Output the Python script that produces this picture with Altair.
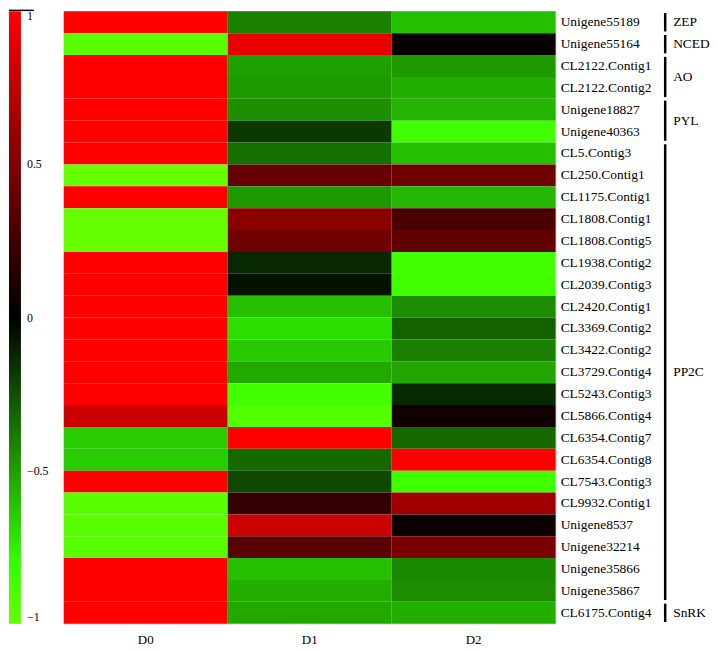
import altair as alt
import pandas as pd

genes = ["Unigene55189", "Unigene55164", "CL2122.Contig1", "CL2122.Contig2",
         "Unigene18827", "Unigene40363", "CL5.Contig3", "CL250.Contig1",
         "CL1175.Contig1", "CL1808.Contig1", "CL1808.Contig5", "CL1938.Contig2",
         "CL2039.Contig3", "CL2420.Contig1", "CL3369.Contig2", "CL3422.Contig2",
         "CL3729.Contig4", "CL5243.Contig3", "CL5866.Contig4", "CL6354.Contig7",
         "CL6354.Contig8", "CL7543.Contig3", "CL9932.Contig1", "Unigene8537",
         "Unigene32214", "Unigene35866", "Unigene35867", "CL6175.Contig4"]
days = ["D0", "D1", "D2"]
d0 = [1, -0.95, 1, 1, 1, 1, 1, -1, 1, -1, -1, 1, 1, 1, 1, 1, 1, 1, 0.80,
      -0.64, -0.64, 1, -0.95, -0.95, -0.95, 1, 1, 1]
d1 = [-0.40, 0.91, -0.50, -0.48, -0.45, -0.18, -0.35, 0.40, -0.48, 0.54, 0.44,
      -0.13, -0.06, -0.60, -0.70, -0.63, -0.53, -0.86, -0.93, 1, -0.33, -0.23,
      0.20, 0.80, 0.35, -0.60, -0.55, -0.53]
d2 = [-0.60, 0.03, -0.48, -0.55, -0.56, -0.86, -0.60, 0.44, -0.57, 0.29, 0.38,
      -0.86, -0.86, -0.44, -0.30, -0.40, -0.52, -0.13, 0.07, -0.33, 1, -0.84,
      0.63, 0.05, 0.48, -0.43, -0.44, -0.55]
groups = ["ZEP", "NCED", "AO", "PYL", "PP2C", "SnRK"]
group_sizes = [1, 1, 2, 2, 21, 1]

rows = []
for i, g in enumerate(genes):
    for day, vals in zip(days, [d0, d1, d2]):
        rows.append({"gene": g, "idx": i, "day": day, "value": vals[i]})
heat_df = pd.DataFrame(rows)
gene_df = pd.DataFrame({"gene": genes, "idx": list(range(len(genes)))})

gstart = []
s = 0
for n in group_sizes:
    gstart.append(s)
    s += n
grp_df = pd.DataFrame({"group": groups, "start": gstart, "size": group_sizes})

N = len(genes)
W, H = 494, 615
FONT = "Liberation Serif"

yscale = alt.Scale(domain=[0, N], reverse=True, nice=False, zero=False)

heat = alt.Chart(heat_df).transform_calculate(
    y0="datum.idx", y1="datum.idx + 1"
).mark_rect().encode(
    x=alt.X("day:N", sort=days, title=None,
            scale=alt.Scale(paddingInner=0, paddingOuter=0),
            axis=alt.Axis(orient="bottom", labelAngle=0, ticks=False, domain=False,
                          labelPadding=10, labelFont=FONT, labelFontSize=13,
                          labelColor="#000")),
    y=alt.Y("y0:Q", scale=yscale, title=None, axis=None),
    y2="y1:Q",
    color=alt.Color("value:Q",
                    scale=alt.Scale(domain=[-1, -0.8, 0, 1],
                                    range=["#66ff00", "#33ff00", "#000000", "#ff0000"],
                                    interpolate="rgb", clamp=True),
                    legend=alt.Legend(orient="none", legendX=-55, legendY=0,
                                      direction="vertical", title=None,
                                      gradientLength=H, gradientThickness=12,
                                      values=[-1, -0.5, 0, 0.5, 1], format=".1~f",
                                      labelFont=FONT, labelFontSize=12,
                                      labelBaseline="top",
                                      labelColor="#000", labelOffset=6,
                                      gradientStrokeWidth=0)),
)

gene_labels = alt.Chart(gene_df).transform_calculate(
    yc="datum.idx + 0.5"
).mark_text(align="left", baseline="middle", font=FONT, fontSize=13.5,
            color="#000").encode(
    x=alt.value(W + 5),
    y=alt.Y("yc:Q", scale=yscale, axis=None),
    text="gene:N",
)

brackets = alt.Chart(grp_df).transform_calculate(
    b0="datum.start + 0.08", b1="datum.start + datum.size - 0.08"
).mark_rule(color="#000", strokeWidth=2.5).encode(
    x=alt.value(604),
    y=alt.Y("b0:Q", scale=yscale, axis=None),
    y2="b1:Q",
)

glabels = alt.Chart(grp_df).transform_calculate(
    ym="datum.start + datum.size / 2"
).mark_text(align="left", baseline="middle", font=FONT, fontSize=13.5,
            color="#000").encode(
    x=alt.value(612),
    y=alt.Y("ym:Q", scale=yscale, axis=None),
    text="group:N",
)

top_tick = alt.Chart(pd.DataFrame({"v": [1]})).mark_rule(
    color="#000", strokeWidth=1.5
).encode(x=alt.value(-55), x2=alt.value(-30), y=alt.value(-1))

chart = alt.layer(heat, gene_labels, brackets, glabels, top_tick).properties(
    width=W, height=H, padding=0
).configure_view(stroke=None).configure(background="white")

chart.save("out.html", embed_options={"renderer": "svg", "actions": False})
